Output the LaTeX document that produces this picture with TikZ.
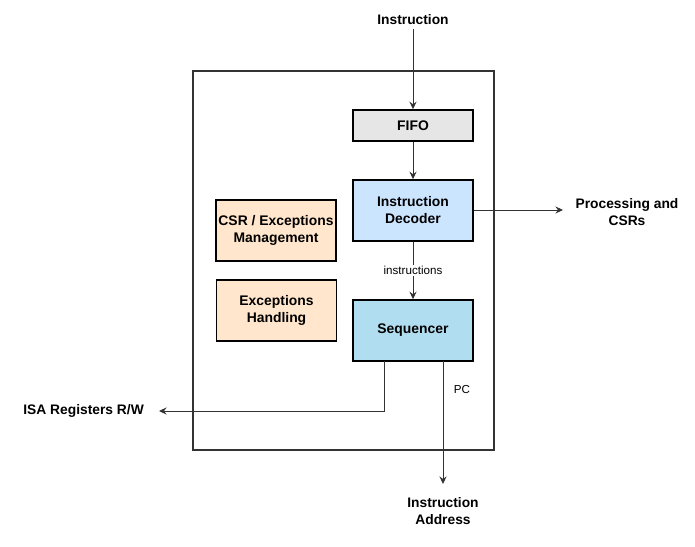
\documentclass[tikz,border=0pt]{standalone}
\usepackage{fontspec}
\setmainfont{Liberation Sans}
\usetikzlibrary{arrows.meta,positioning,calc}
\definecolor{fifofill}{HTML}{E6E6E6}
\definecolor{decfill}{HTML}{CCE5FF}
\definecolor{orfill}{HTML}{FFE6CC}
\definecolor{seqfill}{HTML}{B1DDF0}
\definecolor{wire}{HTML}{333333}
\begin{document}
\begin{tikzpicture}[x=1pt,y=-1pt,
  blk/.style={draw=black,line width=1.5pt,minimum width=120pt,minimum height=61pt,inner sep=0pt,align=center,font=\fontsize{13.9}{17}\selectfont\bfseries},
  lbl/.style={align=center,inner sep=0pt,font=\fontsize{13.8}{17}\selectfont\bfseries},
  small/.style={inner sep=1pt,font=\fontsize{11.6}{13}\selectfont},
  wireln/.style={draw=wire,line width=1pt},
  arr/.style={wireln,-{Stealth[length=7.5pt,width=7pt]}}
]
\useasboundingbox (0,0) rectangle (695,546);
\node[draw=wire,line width=2pt,minimum width=301pt,minimum height=379pt,inner sep=0pt] (outer) at (343.5,260.5) {};
\node[blk,fill=fifofill,minimum height=31pt] (fifo) at (413,125.5) {FIFO};
\node[blk,fill=decfill] (dec) at (413,210.5) {Instruction\\Decoder};
\node[blk,fill=orfill] (csr) at (276,230.5) {CSR / Exceptions\\Management};
\node[blk,fill=orfill] (exc) at (276.5,310.5) {Exceptions\\Handling};
\node[blk,fill=seqfill] (seq) at (413,330.5) {Sequencer};
\node[lbl] (instr) at (413,20) {Instruction};
\node[lbl] (proc) at (627,212) {Processing and\\CSRs};
\node[lbl,anchor=east] (isa) at (144,411) {ISA Registers R/W};
\node[lbl] (iaddr) at (443,511) {Instruction\\Address};
\coordinate (procin) at (563,210);
\coordinate (isain) at (159,411);
\coordinate (iaddrin) at (443,484);
\coordinate (seqA) at (384,361);
\coordinate (seqB) at (443,361);
\coordinate (isaturn) at (384,411);
\draw[arr] (instr.south) ++(0,4) -- (fifo.north);
\draw[arr] (fifo) -- (dec);
\draw[arr] (dec) -- node[small,fill=white] {instructions} (seq);
\draw[arr] (dec.east |- procin) -- (procin);
\draw[arr] (seqA) -- (isaturn) -- (isain);
\draw[arr] (seqB) -- (iaddrin);
\node[small] (pc) at (462,390) {PC};
\end{tikzpicture}
\end{document}
